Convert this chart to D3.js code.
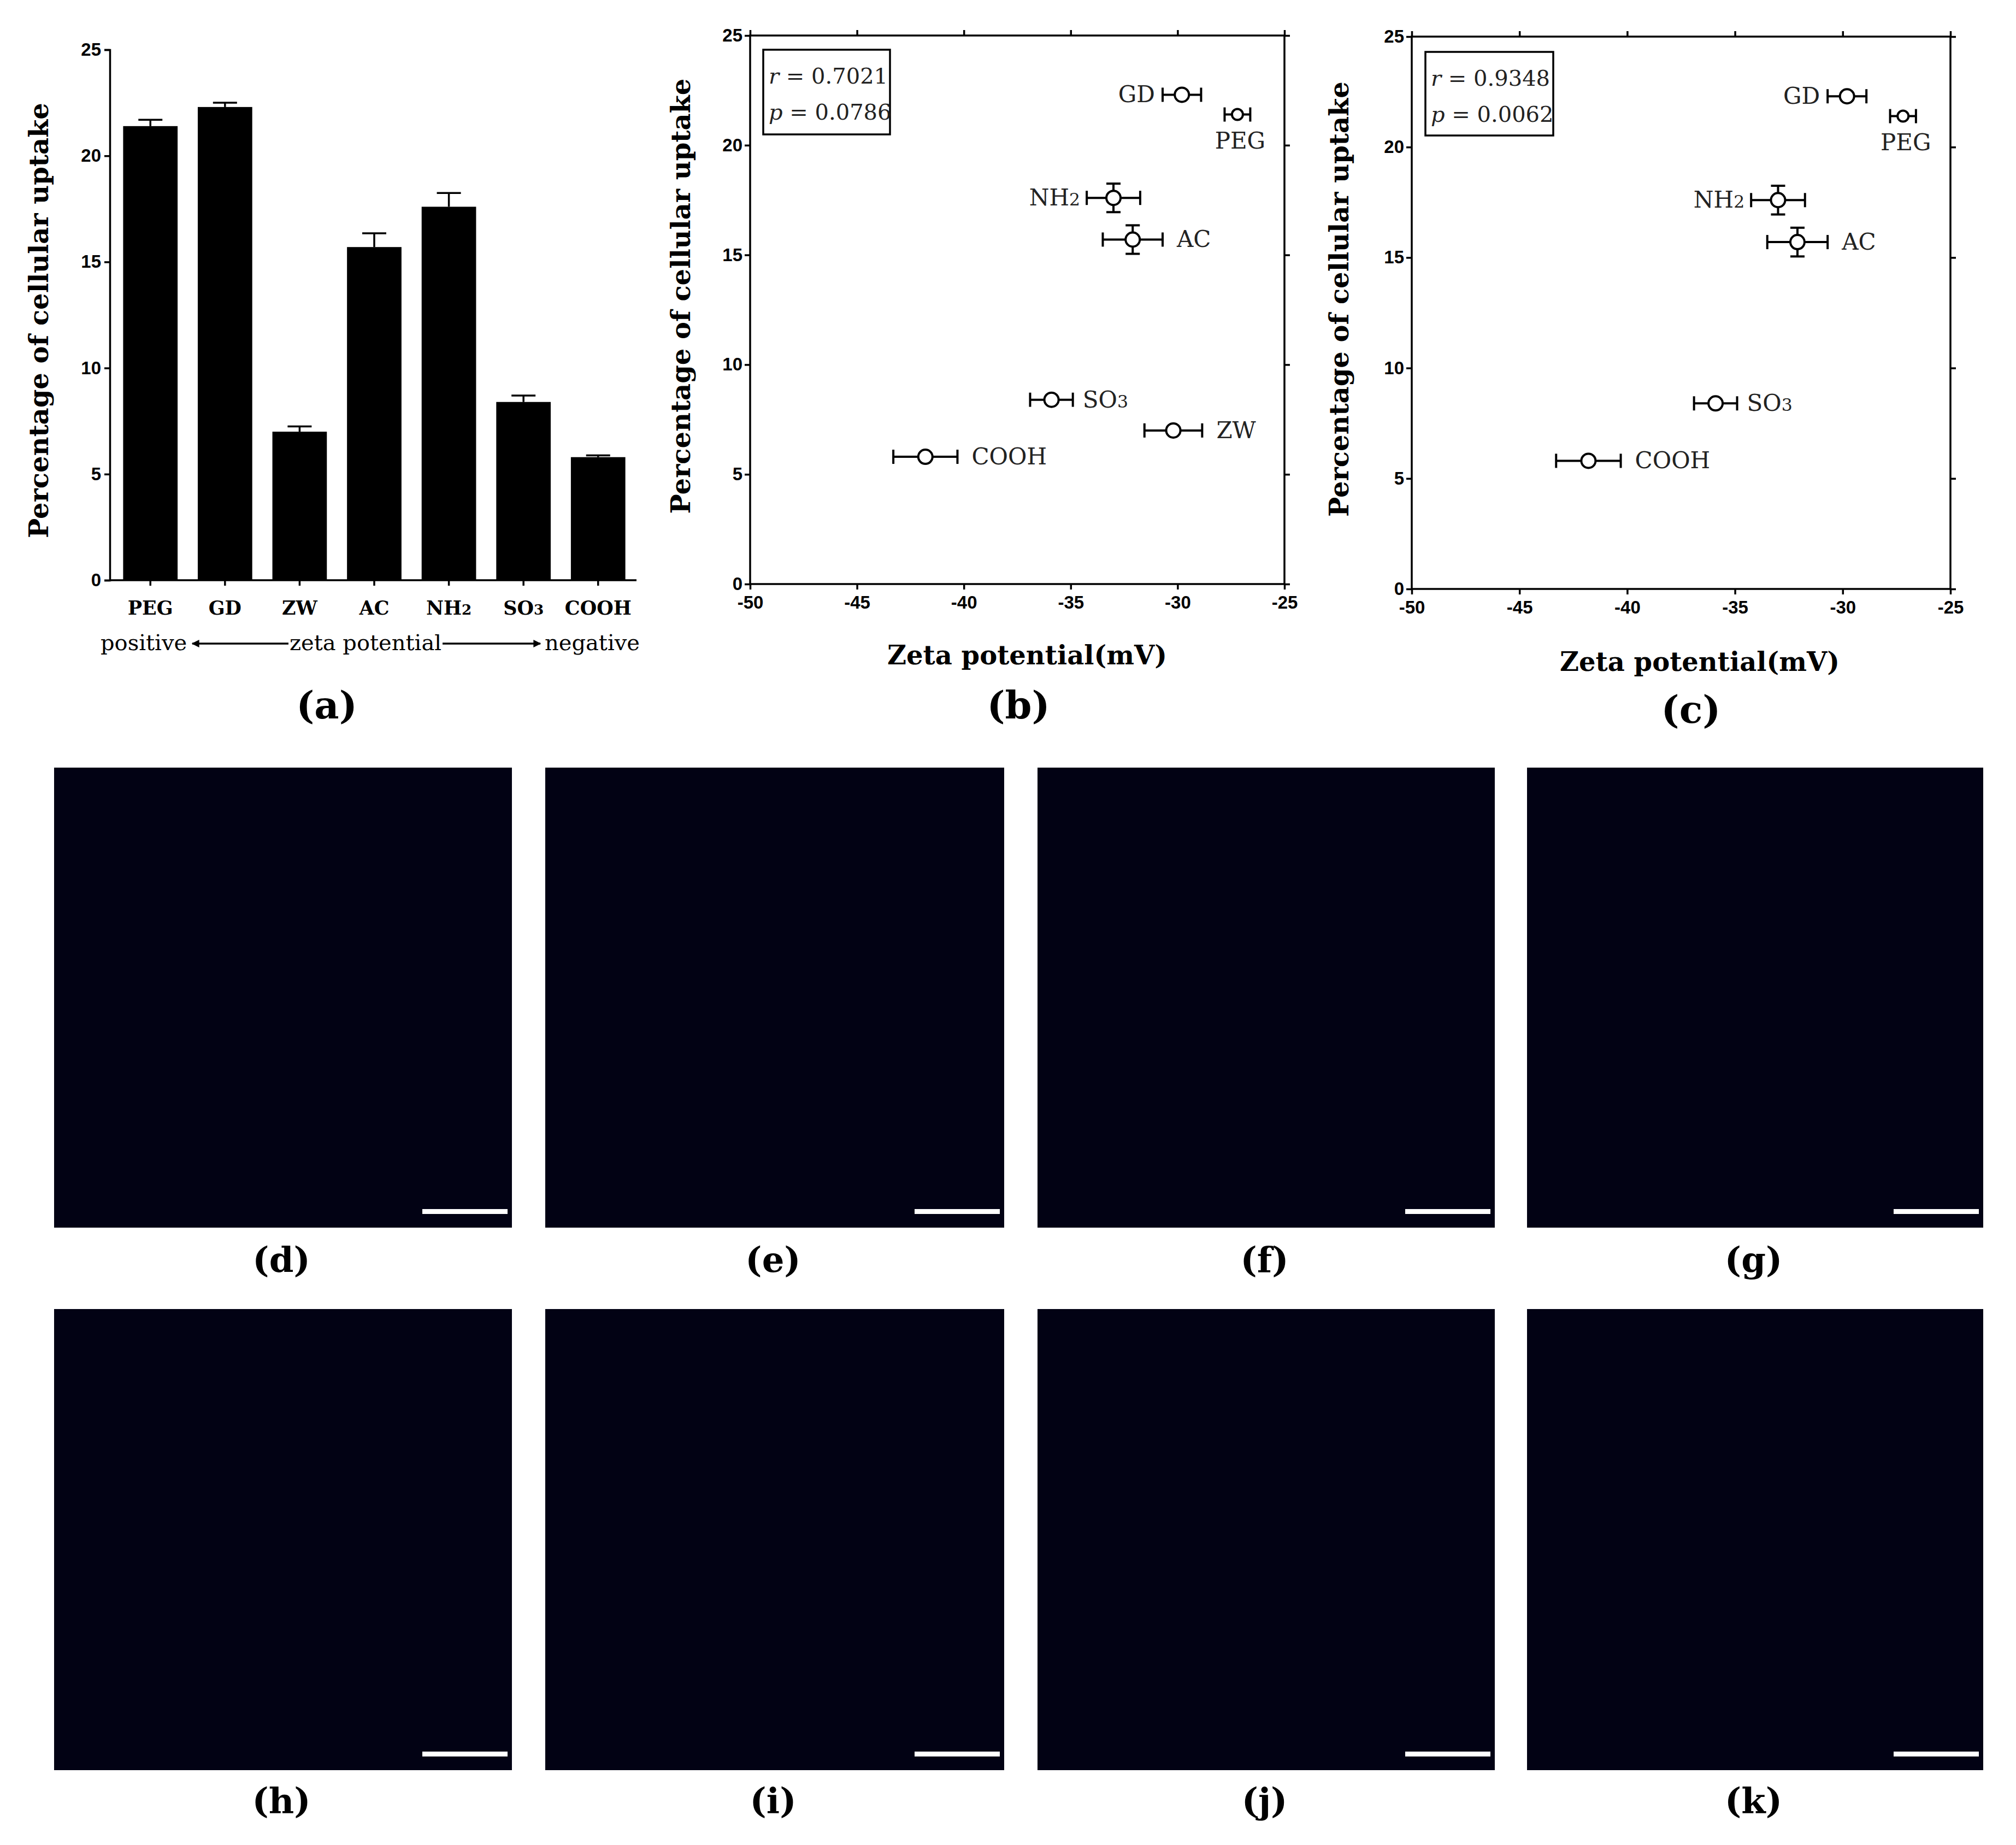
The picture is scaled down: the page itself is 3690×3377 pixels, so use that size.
<!DOCTYPE html><html><head><meta charset="utf-8"><script src="https://cdn.jsdelivr.net/npm/d3@7"></script>
<style>body{margin:0;background:#fff}</style></head><body><svg id="s" width="3690" height="3377"></svg>
<script>
const categories=["PEG","GD","ZW","AC","NH2","SO3","COOH"];
const uptake=[21.4,22.3,7.0,15.7,17.6,8.4,5.8];
const uptakeErr=[0.3,0.2,0.25,0.65,0.65,0.3,0.08];
const zeta=[-27.2,-29.8,-30.2,-32.1,-33.0,-35.9,-41.8];
const zetaErr=[0.6,0.9,1.35,1.4,1.25,1.0,1.5];
const yTicks=[0,5,10,15,20,25];
const xTicks=[-50,-45,-40,-35,-30,-25];
const statsB=["0.7021","0.0786"], statsC=["0.9348","0.0062"];
const micro=["(d)","(e)","(f)","(g)","(h)","(i)","(j)","(k)"];

const svg=d3.select("#s");
const serif="'DejaVu Serif','Liberation Serif',serif", sans="'Liberation Sans',Arial,sans-serif";
function sub(sel,t){const m=t.match(/^(.*?)(\d)$/);
  if(m){sel.append("tspan").text(m[1]);sel.append("tspan").attr("font-size","0.75em").text(m[2]);} else sel.text(t);}
const tickSty=a=>{a.selectAll("line").attr("stroke-width",3.5);a.selectAll("text").attr("font-family",sans).attr("font-weight","bold").attr("font-size",33);};

// Panel a
{const L=201,R=1165,T=91,B=1062;
 const x=d3.scaleBand().domain(categories).range([L+8,R-4]).paddingInner(0.27).paddingOuter(0.12);
 const y=d3.scaleLinear().domain([0,25]).range([B,T]);
 const g=svg.append("g");
 g.append("g").attr("transform",`translate(${L},0)`).call(d3.axisLeft(y).tickValues(yTicks).tickSize(10).tickPadding(6))
  .call(tickSty).call(a=>a.select(".domain").attr("stroke-width",3.5));
 g.append("line").attr("x1",L).attr("x2",R).attr("y1",B).attr("y2",B).attr("stroke","#000").attr("stroke-width",3.5);
 categories.forEach((c,i)=>{
  const cx=x(c)+x.bandwidth()/2;
  g.append("line").attr("x1",cx).attr("x2",cx).attr("y1",y(uptake[i])).attr("y2",y(uptake[i]+uptakeErr[i])).attr("stroke","#000").attr("stroke-width",3.5);
  g.append("line").attr("x1",cx-22).attr("x2",cx+22).attr("y1",y(uptake[i]+uptakeErr[i])).attr("y2",y(uptake[i]+uptakeErr[i])).attr("stroke","#000").attr("stroke-width",3.5);
  g.append("rect").attr("x",x(c)).attr("width",x.bandwidth()).attr("y",y(uptake[i])).attr("height",B-y(uptake[i])).attr("fill","#000");
  g.append("line").attr("x1",cx).attr("x2",cx).attr("y1",B).attr("y2",B+10).attr("stroke","#000").attr("stroke-width",3.5);
  const t=g.append("text").attr("x",cx).attr("y",1125).attr("text-anchor","middle").attr("font-family",serif).attr("font-weight","bold").attr("font-size",35);sub(t,c);
 });
 g.append("text").attr("transform",`translate(88,${(T+B)/2+10}) rotate(-90)`).attr("text-anchor","middle").attr("font-family",serif).attr("font-weight","bold").attr("font-size",48).text("Percentage of cellular uptake");
 const ly=1190;
 g.append("text").attr("x",184).attr("y",ly).attr("font-family",serif).attr("font-size",40).text("positive");
 g.append("text").attr("x",669).attr("y",ly).attr("text-anchor","middle").attr("font-family",serif).attr("font-size",40).text("zeta potential");
 g.append("text").attr("x",1171).attr("y",ly).attr("text-anchor","end").attr("font-family",serif).attr("font-size",40).text("negative");
 svg.append("defs").append("marker").attr("id","ah").attr("viewBox","0 0 10 10").attr("refX",9).attr("refY",5).attr("markerWidth",4).attr("markerHeight",4).attr("orient","auto-start-reverse").append("path").attr("d","M0,0L10,5L0,10z");
 g.append("line").attr("x1",352).attr("x2",528).attr("y1",ly-12).attr("y2",ly-12).attr("stroke","#000").attr("stroke-width",3.5).attr("marker-start","url(#ah)");
 g.append("line").attr("x1",810).attr("x2",989).attr("y1",ly-12).attr("y2",ly-12).attr("stroke","#000").attr("stroke-width",3.5).attr("marker-end","url(#ah)");
 g.append("text").attr("x",598).attr("y",1315).attr("text-anchor","middle").attr("font-family",serif).attr("font-weight","bold").attr("font-size",70).text("(a)");
}

function scatter(L,R,T,B,box,stats,skip,tag,titleY,tagY,ytx,tagX){
 const x=d3.scaleLinear().domain([-50,-25]).range([L,R]);
 const y=d3.scaleLinear().domain([0,25]).range([B,T]);
 const g=svg.append("g");
 const sty=a=>{a.select(".domain").remove();tickSty(a);};
 const fmt=d=>String(d);
 g.append("g").attr("transform",`translate(${L},0)`).call(d3.axisLeft(y).tickValues(yTicks).tickSize(10).tickPadding(4).tickFormat(fmt)).call(sty);
 g.append("g").attr("transform",`translate(0,${B})`).call(d3.axisBottom(x).tickValues(xTicks).tickSize(10).tickPadding(12).tickFormat(fmt)).call(sty);
 g.append("g").attr("transform",`translate(${R},0)`).call(d3.axisRight(y).tickValues(yTicks).tickSize(10).tickFormat("")).call(sty);
 g.append("g").attr("transform",`translate(0,${T})`).call(d3.axisTop(x).tickValues(xTicks).tickSize(10).tickFormat("")).call(sty);
 g.append("rect").attr("x",L).attr("y",T).attr("width",R-L).attr("height",B-T).attr("fill","none").attr("stroke","#000").attr("stroke-width",3.5);
 g.append("text").attr("transform",`translate(${ytx},${(T+B)/2-25}) rotate(-90)`).attr("text-anchor","middle").attr("font-family",serif).attr("font-weight","bold").attr("font-size",48).text("Percentage of cellular uptake");
 g.append("text").attr("x",tagX+16).attr("y",titleY).attr("text-anchor","middle").attr("font-family",serif).attr("font-weight","bold").attr("font-size",48).text("Zeta potential(mV)");
 g.append("text").attr("x",tagX).attr("y",tagY).attr("text-anchor","middle").attr("font-family",serif).attr("font-weight","bold").attr("font-size",70).text(tag);
 g.append("rect").attr("x",box[0]).attr("y",box[1]).attr("width",box[2]).attr("height",box[3]).attr("fill","#fff").attr("stroke","#000").attr("stroke-width",3.5);
 ["r","p"].forEach((k,i)=>{const t=g.append("text").attr("x",box[0]+10).attr("y",box[1]+62+i*66).attr("font-family",serif).attr("font-size",40).attr("fill","#222");
   t.append("tspan").attr("font-style","italic").text(k);t.append("tspan").text(" = "+stats[i]);});
 const off={PEG:[0,62,"middle"],GD:[-14,14,"end"],ZW:[26,14,"start"],AC:[26,14,"start"],NH2:[-12,14,"end"],SO3:[18,14,"start"],COOH:[26,14,"start"]};
 categories.forEach((c,i)=>{ if(skip.includes(c))return;
  const cx=x(zeta[i]),cy=y(uptake[i]);
  const x1=x(zeta[i]-zetaErr[i]),x2=x(zeta[i]+zetaErr[i]);
  g.append("line").attr("x1",x1).attr("x2",x2).attr("y1",cy).attr("y2",cy).attr("stroke","#000").attr("stroke-width",4);
  [x1,x2].forEach(v=>g.append("line").attr("x1",v).attr("x2",v).attr("y1",cy-13).attr("y2",cy+13).attr("stroke","#000").attr("stroke-width",4));
  if(uptakeErr[i]>0.4){const ya=y(uptake[i]+uptakeErr[i]),yb=y(uptake[i]-uptakeErr[i]);
   g.append("line").attr("x1",cx).attr("x2",cx).attr("y1",ya).attr("y2",yb).attr("stroke","#000").attr("stroke-width",4);
   [ya,yb].forEach(v=>g.append("line").attr("x1",cx-13).attr("x2",cx+13).attr("y1",v).attr("y2",v).attr("stroke","#000").attr("stroke-width",4));}
  g.append("circle").attr("cx",cx).attr("cy",cy).attr("r",c=="PEG"?10:13).attr("fill","#fff").attr("stroke","#000").attr("stroke-width",4);
  const o=off[c];const dx=c=="PEG"?cx+5:(o[2]=="end"?x1+o[0]:x2+o[0]);
  const t=g.append("text").attr("x",dx).attr("y",cy+o[1]).attr("text-anchor",o[2]).attr("font-family",serif).attr("font-size",42).attr("fill","#222");sub(t,c);
 });
}
scatter(1373,2351,65,1069,[1397,91,232,155],statsB,[],"(b)",1216,1315,1263,1864);
scatter(2584,3570,67,1078,[2609,95,234,153],statsC,["ZW"],"(c)",1228,1323,2468,3095);

// micrograph panels (placeholders)
const cols=[[99,937],[998,1838],[1899,2736],[2795,3630]];
micro.forEach((m,i)=>{const r=Math.floor(i/4),c=i%4;const y0=r?2396:1405,y1=r?3240:2247;const [x0,x1]=cols[c];
 svg.append("rect").attr("x",x0).attr("y",y0).attr("width",x1-x0).attr("height",y1-y0).attr("fill","#020214");
 svg.append("rect").attr("x",x1-164).attr("y",y1-34).attr("width",156).attr("height",9).attr("fill","#fff");
 svg.append("text").attr("x",(x0+x1)/2-3).attr("y",r?3318:2328).attr("text-anchor","middle").attr("font-family",serif).attr("font-weight","bold").attr("font-size",64).text(m);
});
</script></body></html>
